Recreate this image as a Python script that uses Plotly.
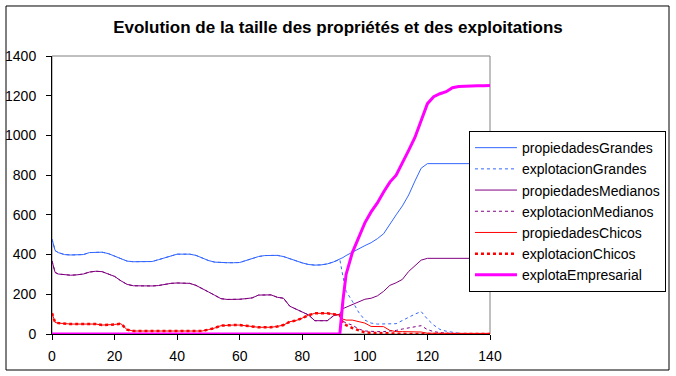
import plotly.graph_objects as go

t = [0, 1, 2, 4, 6, 8, 10, 12, 14, 16, 18, 20, 22, 24, 26, 28, 30, 32, 34, 36, 38, 40,
     42, 44, 46, 48, 50, 52, 54, 56, 58, 60, 62, 64, 66, 68, 70, 72, 74, 76, 78, 80,
     82, 84, 86, 88, 90, 92, 93, 94, 96, 98, 100, 102, 104, 106, 108, 110, 112, 114,
     116, 118, 120, 122, 124, 126, 128, 130, 132, 134, 136, 138, 140]

propiedadesGrandes = [478, 420, 410, 400, 398, 398, 400, 410, 412, 412, 405, 392, 378, 367, 364, 364, 364, 365, 374, 384, 396, 402,
                      402, 402, 396, 382, 370, 362, 359, 359, 359, 360, 370, 381, 390, 395, 396, 396, 390, 378, 366, 358,
                      350, 347, 348, 353, 363, 375, 385, 395, 412, 432, 445, 460, 480, 505, 555, 600, 645, 700,
                      770, 835, 858, 858, 858, 858, 858, 858, 858, 858, 858, 858, 858]
explotacionGrandes = [478, 420, 410, 400, 398, 398, 400, 410, 412, 412, 405, 392, 378, 367, 364, 364, 364, 365, 374, 384, 396, 402,
                      402, 402, 396, 382, 370, 362, 359, 359, 359, 360, 370, 381, 390, 395, 396, 396, 390, 378, 366, 358,
                      350, 347, 348, 353, 363, 375, 290, 215, 165, 110, 70, 55, 50, 50, 50, 52, 68, 85,
                      100, 113, 75, 45, 23, 14, 8, 4, 2, 0, 0, 0, 0]
propiedadesMedianos = [368, 310, 302, 298, 296, 298, 302, 312, 316, 314, 303, 290, 268, 250, 243, 242, 242, 242, 244, 250, 255, 257,
                       257, 255, 245, 230, 212, 195, 178, 174, 174, 175, 178, 182, 196, 198, 197, 185, 180, 140, 125, 113,
                       96, 67, 67, 67, 92, 100, 128, 135, 145, 160, 175, 180, 192, 215, 245, 258, 275, 315,
                       345, 372, 381, 381, 381, 381, 381, 381, 381, 381, 381, 381, 381]
explotacionMedianos = [368, 310, 302, 298, 296, 298, 302, 312, 316, 314, 303, 290, 268, 250, 243, 242, 242, 242, 244, 250, 255, 257,
                       257, 255, 245, 230, 212, 195, 178, 174, 174, 175, 178, 182, 196, 198, 197, 185, 180, 140, 125, 113,
                       96, 67, 67, 67, 92, 100, 65, 55, 45, 25, 15, 12, 12, 12, 14, 18, 25, 30,
                       38, 42, 22, 12, 7, 4, 2, 0, 0, 0, 0, 0, 0]
propiedadesChicos = [105, 58, 55, 52, 50, 50, 50, 50, 50, 45, 45, 48, 52, 22, 15, 15, 15, 15, 15, 15, 15, 15,
                     15, 15, 15, 15, 22, 30, 42, 45, 45, 45, 42, 36, 34, 34, 34, 38, 45, 62, 68, 80,
                     95, 104, 104, 104, 100, 95, 75, 70, 70, 64, 55, 38, 37, 37, 18, 12, 12, 12,
                     12, 10, 4, 3, 3, 3, 3, 3, 3, 3, 3, 3, 3]
explotacionChicos = [105, 58, 55, 52, 50, 50, 50, 50, 50, 45, 45, 48, 52, 22, 15, 15, 15, 15, 15, 15, 15, 15,
                     15, 15, 15, 15, 22, 30, 42, 45, 45, 45, 42, 36, 34, 34, 34, 38, 45, 62, 68, 80,
                     95, 104, 104, 104, 100, 95, 55, 45, 30, 18, 8, 6, 5, 3, 0, 0, 0, 0,
                     0, 0, 0, 0, 0, 0, 0, 0, 0, 0, 0, 0, 0]
explotaEmpresarial = [0, 0, 0, 0, 0, 0, 0, 0, 0, 0, 0, 0, 0, 0, 0, 0, 0, 0, 0, 0, 0, 0,
                      0, 0, 0, 0, 0, 0, 0, 0, 0, 0, 0, 0, 0, 0, 0, 0, 0, 0, 0, 0,
                      0, 0, 0, 0, 0, 0, 170, 300, 410, 490, 560, 615, 660, 715, 765, 800, 860, 925,
                      990, 1080, 1160, 1195, 1210, 1220, 1240, 1246, 1248, 1250, 1250, 1250, 1252]

series = [
    ("propiedadesGrandes", propiedadesGrandes, "#3366FF", "solid", 1),
    ("explotacionGrandes", explotacionGrandes, "#3366FF", "dot", 1),
    ("propiedadesMedianos", propiedadesMedianos, "#800080", "solid", 1),
    ("explotacionMedianos", explotacionMedianos, "#800080", "dot", 1),
    ("propiedadesChicos", propiedadesChicos, "#FF0000", "solid", 1),
    ("explotacionChicos", explotacionChicos, "#FF0000", "dot", 2.5),
    ("explotaEmpresarial", explotaEmpresarial, "#FF00FF", "solid", 3),
]

FONT = "Liberation Sans"
fig = go.Figure()
for name, vals, color, dash, w in series:
    fig.add_trace(go.Scatter(x=t, y=vals, name=name, mode="lines",
                             line=dict(color=color, dash=dash, width=w)))

fig.update_layout(
    width=676, height=376,
    margin=dict(l=52, r=186, t=56, b=42, autoexpand=False),
    paper_bgcolor="white", plot_bgcolor="white",
    font=dict(family=FONT, size=14, color="black"),
    title=dict(text="<b>Evolution de la taille des propriétés et des exploitations</b>",
               x=0.5, xanchor="center", y=0.928, yanchor="middle",
               font=dict(family=FONT, size=17, color="black")),
    showlegend=True,
    legend=dict(x=0.952, y=0.73, xanchor="left", yanchor="top",
                bordercolor="black", borderwidth=1, bgcolor="white",
                font=dict(family=FONT, size=14, color="black"),
                itemwidth=42, tracegroupgap=0),
    xaxis=dict(range=[0, 140], dtick=20, tick0=0, showgrid=False, zeroline=False,
               showline=True, linecolor="black", linewidth=1, automargin=False,
               ticks="outside", ticklen=5, tickcolor="black",
               ticklabelstandoff=4,
               tickfont=dict(family=FONT, size=14)),
    yaxis=dict(range=[0, 1400], dtick=200, tick0=0, showgrid=False, zeroline=False,
               showline=True, linecolor="black", linewidth=1, automargin=False,
               ticks="outside", ticklen=5, tickcolor="black",
               ticklabelstandoff=7,
               tickfont=dict(family=FONT, size=14)),
    shapes=[
        dict(type="rect", xref="paper", yref="paper", x0=0, x1=1, y0=0, y1=1,
             line=dict(color="#808080", width=1), layer="below"),
        dict(type="rect", xref="paper", yref="paper", x0=-0.105, x1=1.4087,
             y0=-0.1295, y1=1.1799, line=dict(color="black", width=1), layer="below"),
    ],
)

fig.write_html("out.html", config={"displayModeBar": False},
               post_script="document.body.style.margin='0';")
